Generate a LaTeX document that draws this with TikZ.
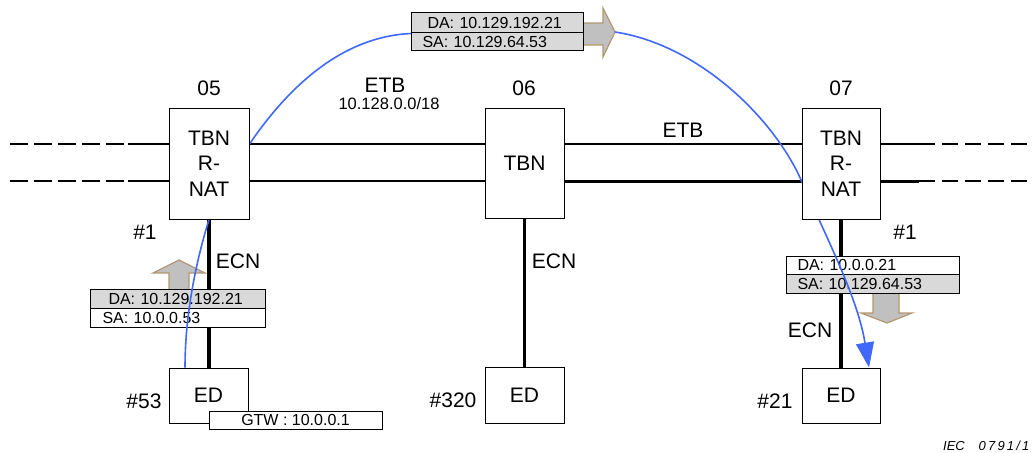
\documentclass[tikz,border=0pt]{standalone}
\usepackage{fontspec}
\setmainfont{Liberation Sans}
\usetikzlibrary{arrows.meta,calc}
\definecolor{blueline}{RGB}{64,104,250}
\definecolor{pktgray}{RGB}{217,217,217}
\definecolor{arrfill}{RGB}{192,192,192}
\definecolor{arrdraw}{RGB}{178,152,112}
\pgfdeclarelayer{lines}
\pgfdeclarelayer{pk}
\pgfdeclarelayer{bl}
\pgfsetlayers{lines,pk,bl,main}
\begin{document}
\begin{tikzpicture}[x=1pt,y=-1pt,
  big/.style={font=\fontsize{21}{25.5}\selectfont},
  box/.style={draw, fill=white, line width=1pt, inner sep=0pt, align=center, big},
  lbl/.style={big, inner sep=0pt},
  pkt/.style={draw, line width=1pt, inner ysep=0pt, align=left, anchor=west,
              font=\fontsize{16}{18}\selectfont},
  etb/.style={line width=2pt},
  etbthick/.style={line width=3pt},
  ecn/.style={line width=3.5pt},
  etbdash/.style={line width=2.2pt, dash pattern=on 18pt off 6pt},
  etbdashr/.style={line width=2.2pt, dash pattern=on 16pt off 7pt},
  blockarrow/.style={fill=arrfill, draw=arrdraw, line width=1.2pt, line join=miter},
  flow/.style={draw=blueline, line width=1.6pt}
]
\useasboundingbox (0,0) rectangle (1032,452);

% ---------- main nodes ----------
\node[box, minimum width=80pt, minimum height=111pt] (n05) at (209,163.5) {TBN\\R-\\NAT};
\node[box, minimum width=79pt, minimum height=110pt] (n06) at (524.5,163) {TBN};
\node[box, minimum width=78pt, minimum height=111pt] (n07) at (841,163.5) {TBN\\R-\\NAT};

\node[box, minimum width=79pt, minimum height=55pt] (ed05) at (208.5,395.5) {ED};
\node[box, minimum width=79pt, minimum height=56pt] (ed06) at (524.5,395) {ED};
\node[box, minimum width=78pt, minimum height=55pt] (ed07) at (841,395.5) {ED};

\node[draw, fill=white, line width=1pt, inner sep=0pt, minimum width=173pt, minimum height=18pt,
      font=\fontsize{16}{18}\selectfont] (gtw) at (295.5,420) {GTW : 10.0.0.1};

% ---------- labels ----------
\node[lbl] (l05) at (209,88) {05};
\node[lbl] (l06) at (524,88) {06};
\node[lbl] (l07) at (841,88) {07};
\node[lbl] (etb1) at (385,85) {ETB};
\node[inner sep=0pt, font=\fontsize{16.5}{18}\selectfont] (sub) at (389,104) {10.128.0.0/18};
\node[lbl] (etb2) at (683,130) {ETB};
\node[lbl] (h1a) at (145,232) {\#1};
\node[lbl] (h1b) at (905,232) {\#1};
\node[lbl] (ecn1) at (238,261) {ECN};
\node[lbl] (ecn2) at (554,261) {ECN};
\node[lbl] (ecn3) at (810,330) {ECN};
\node[lbl] (h53) at (144,401) {\#53};
\node[lbl] (h320) at (453,400) {\#320};
\node[lbl] (h21) at (775,401) {\#21};
\node[inner sep=0pt, font=\fontsize{13}{15}\selectfont\itshape] (iec1) at (954,446) {IEC};
\node[inner sep=0pt, font=\fontsize{13}{15}\selectfont\itshape] (iec2) at (1004,446) {0\,7\,9\,1\,/\,1};

% ---------- level coordinates ----------
\coordinate (ltop) at (0,144);
\coordinate (lbot) at (0,181);
\coordinate (dl1) at (10,144);
\coordinate (dl2) at (10,181);
\coordinate (sl1) at (128,144);
\coordinate (sl2) at (128,181);
\coordinate (sr1) at (919,144);
\coordinate (sr2) at (919,181);

% ---------- ETB and ECN lines ----------
\begin{pgfonlayer}{lines}
  \draw[etbdash] (dl1) -- ++(114,0);
  \draw[etbdash] (dl2) -- ++(114,0);
  \draw[etb] (sl1) -- (n05.west |- sl1);
  \draw[etb] (sl2) -- (n05.west |- sl2);
  \draw[etb] (n05.east |- ltop) -- (n06.west |- ltop);
  \draw[etb] (n05.east |- lbot) -- (n06.west |- lbot);
  \draw[etb] (n06.east |- ltop) -- (n07.west |- ltop);
  \draw[etbthick] (n06.east |- lbot) -- (n07.west |- lbot);
  \draw[etb] (n07.east |- ltop) -- (sr1);
  \draw[etbthick] (n07.east |- lbot) -- (sr2);
  \draw[etbdashr] (sr1) -- ++(108,0);
  \draw[etbdashr] (sr2) -- ++(108,0);
  \draw[ecn] (n05.south) -- (n05.south |- ed05.north);
  \draw[ecn] (n06.south) -- (n06.south |- ed06.north);
  \draw[ecn] (n07.south) -- (n07.south |- ed07.north);
\end{pgfonlayer}

% ---------- packets and block arrows ----------
\begin{pgfonlayer}{pk}
  % top packet
  \draw[blockarrow] (583,23) -- (603,23) -- (603,8) -- (615,32) -- (603,57) -- (603,45) -- (583,45);
  \coordinate (apex) at (615,32);
  \node[pkt, fill=pktgray, minimum height=20pt, text width=140pt, inner xsep=16pt] (tDA) at (411,23) {DA: 10.129.192.21};
  \node[pkt, fill=pktgray, minimum height=18pt, text width=150pt, inner xsep=11pt] (tSA) at (411,42) {SA: 10.129.64.53};
  % left packet
  \draw[blockarrow] (169,289) -- (169,273) -- (153,273) -- (179,260) -- (205,273) -- (189,273) -- (189,289);
  \node[pkt, fill=pktgray, minimum height=19pt, text width=139pt, inner xsep=18pt] (lDA) at (90,298.5) {DA: 10.129.192.21};
  \node[pkt, fill=white, minimum height=19pt, text width=151pt, inner xsep=12pt] (lSA) at (90,317.5) {SA: 10.0.0.53};
  % right packet
  \draw[blockarrow] (873,293) -- (873,313) -- (861,313) -- (887,323) -- (912,313) -- (899,313) -- (899,293);
  \node[pkt, fill=white, minimum height=18pt, text width=151pt, inner xsep=11pt] (rDA) at (786,265) {DA: 10.0.0.21};
  \node[pkt, fill=pktgray, minimum height=19pt, text width=151pt, inner xsep=11pt] (rSA) at (786,283.5) {SA: 10.129.64.53};
\end{pgfonlayer}

% ---------- blue flow ----------
\begin{pgfonlayer}{bl}
  \draw[flow] ($(ed05.north)+(-23.5,0)$) .. controls (185,310) and (198,255) .. (n05.south);
  \draw[flow] (n05.east |- ltop) .. controls (300,70) and (355,36) .. (tDA.south west);
  \draw[flow, -{Triangle[length=25pt,width=18pt]}]
    (apex) .. controls (700,45) and (775,120) .. (n07.west |- lbot)
    .. controls (831,247) and (858,300) .. ($(ed07.north)+(28,0)$);
\end{pgfonlayer}
\end{tikzpicture}
\end{document}
